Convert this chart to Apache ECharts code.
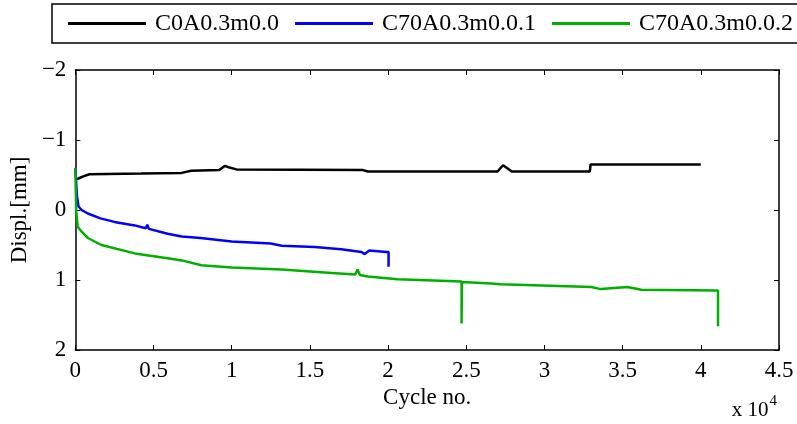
<!DOCTYPE html>
<html>
<head>
<meta charset="utf-8">
<script src="https://cdn.jsdelivr.net/npm/echarts@6/dist/echarts.min.js"></script>
<style>html,body{margin:0;padding:0;background:#fff}#c{width:797px;height:424px}</style>
</head>
<body>
<div id="c"></div>
<script>
const seriesNames = ['C0A0.3m0.0', 'C70A0.3m0.0.1', 'C70A0.3m0.0.2'];
const seriesColors = ['#000000', '#0000ff', '#00b000'];
const xTicks = [0, 0.5, 1, 1.5, 2, 2.5, 3, 3.5, 4, 4.5];
const yTicks = [-2, -1, 0, 1, 2];

// [cycle, displacement mm]
const blackData = [[0,-0.44],[200,-0.45],[500,-0.48],[900,-0.51],[4200,-0.52],[6800,-0.53],[7400,-0.56],[9200,-0.57],[9550,-0.63],[9800,-0.61],[10300,-0.58],[18400,-0.57],[18700,-0.55],[27000,-0.55],[27350,-0.64],[27600,-0.6],[27900,-0.55],[32900,-0.55],[32950,-0.65],[40000,-0.65]];
const blueData = [[0,-0.6],[100,-0.2],[200,-0.05],[400,0.0],[800,0.05],[1600,0.12],[2500,0.17],[3800,0.22],[4500,0.26],[4600,0.21],[4700,0.27],[5900,0.34],[6800,0.38],[8000,0.40],[10000,0.45],[12500,0.48],[13200,0.51],[15300,0.53],[17000,0.56],[18300,0.6],[18500,0.63],[18800,0.58],[19900,0.6],[20030,0.6],[20030,0.81]];
const greenData = [[0,-0.6],[50,0.0],[150,0.24],[400,0.31],[800,0.40],[1660,0.5],[3800,0.62],[5900,0.69],[6800,0.72],[8060,0.79],[10000,0.82],[13200,0.85],[16400,0.9],[17900,0.92],[18050,0.85],[18200,0.93],[18700,0.95],[20600,0.99],[24700,1.02],[24700,1.62],[24720,1.62],[24720,1.03],[26600,1.05],[27200,1.06],[33000,1.10],[33600,1.13],[35300,1.10],[36200,1.14],[41100,1.15],[41100,1.66]];

const allData = [blackData, blueData, greenData];
const FONT = 'Liberation Serif';
const chart = echarts.init(document.getElementById('c'));
const xAxisBase = {
  type: 'value', min: 0, max: 45000, interval: 5000,
  axisLine: {show: true, onZero: false, lineStyle: {color: '#000', width: 1.5}},
  axisTick: {show: true, inside: true, length: 5, lineStyle: {color: '#000'}},
  splitLine: {show: false}
};
const yAxisBase = {
  type: 'value', min: -2, max: 2, interval: 1, inverse: true,
  axisLine: {show: true, onZero: false, lineStyle: {color: '#000', width: 1.5}},
  axisTick: {show: true, inside: true, length: 5, lineStyle: {color: '#000'}},
  splitLine: {show: false}
};
chart.setOption({
  animation: false,
  textStyle: {fontFamily: FONT},
  grid: {left: 75, right: 18, top: 70, bottom: 74},
  legend: {
    data: seriesNames, left: 52, top: 4, width: 1200, icon: 'rect',
    padding: [7, 16, 7, 16], itemGap: 16, itemWidth: 78, itemHeight: 3,
    borderColor: '#000', borderWidth: 1.5,
    textStyle: {fontFamily: FONT, fontSize: 24, color: '#000', padding: [0, 0, 0, 4], lineHeight: 25}
  },
  xAxis: [
    Object.assign({}, xAxisBase, {
      position: 'bottom',
      name: 'Cycle no.', nameLocation: 'middle', nameGap: 36,
      nameTextStyle: {fontFamily: FONT, fontSize: 23, color: '#000'},
      axisLabel: {fontFamily: FONT, fontSize: 23, color: '#000', margin: 9,
        formatter: v => String(xTicks[Math.round(v / 5000)])}
    }),
    Object.assign({}, xAxisBase, {position: 'top', axisLabel: {show: false}})
  ],
  yAxis: [
    Object.assign({}, yAxisBase, {
      position: 'left',
      name: 'Displ.[mm]', nameLocation: 'middle', nameGap: 44,
      nameTextStyle: {fontFamily: FONT, fontSize: 23, color: '#000'},
      axisLabel: {fontFamily: FONT, fontSize: 23, color: '#000', margin: 9,
        formatter: v => String(yTicks[Math.round(v) + 2]).replace('-', '\u2212')}
    }),
    Object.assign({}, yAxisBase, {position: 'right', axisLabel: {show: false}})
  ],
  graphic: [{
    type: 'text', right: 20, top: 394,
    style: {
      text: '{a|x 10}{b|4}',
      rich: {
        a: {fontFamily: FONT, fontSize: 21, fill: '#000', verticalAlign: 'bottom'},
        b: {fontFamily: FONT, fontSize: 15, fill: '#000', verticalAlign: 'top', padding: [0, 0, 12, 1]}
      }
    }
  }],
  series: allData.map((d, i) => ({
    name: seriesNames[i], type: 'line', data: d, symbol: 'none',
    xAxisIndex: 0, yAxisIndex: 0,
    lineStyle: {color: seriesColors[i], width: 2.5},
    itemStyle: {color: seriesColors[i]}
  }))
});
</script>
</body>
</html>
